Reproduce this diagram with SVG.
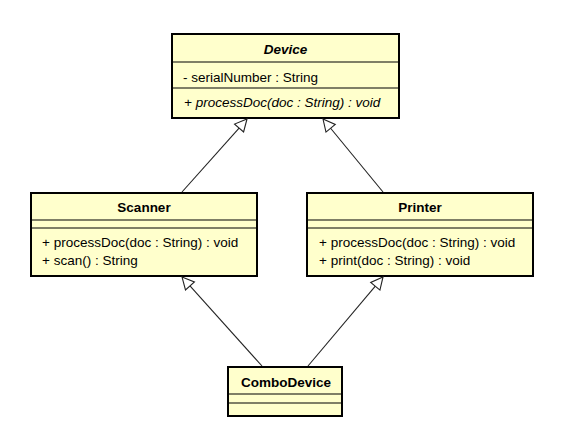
<svg xmlns="http://www.w3.org/2000/svg" width="578" height="443" viewBox="0 0 578 443">
<style>
.box{fill:#ffffcc;stroke:#000;stroke-width:2}
.div{stroke:#000;stroke-width:1.2}
.t{font-family:"Liberation Sans",Arial,sans-serif;font-size:13.5px;fill:#000}
.b{font-weight:bold;text-anchor:middle}
.i{font-style:italic}
.conn line{stroke:#222;stroke-width:1.1}
.conn polygon{fill:#fff;stroke:#222;stroke-width:1.1;stroke-linejoin:miter}
</style>
<rect width="578" height="443" fill="#fff"/>
<g id="Device">
<rect class="box" x="172" y="34" width="227" height="84"/>
<line class="div" x1="172" y1="62" x2="399" y2="62"/>
<line class="div" x1="172" y1="88" x2="399" y2="88"/>
<text class="t b i" x="285.5" y="54">Device</text>
<text class="t" x="183" y="82">- serialNumber : String</text>
<text class="t i" x="184" y="107">+ processDoc(doc : String) : void</text>
</g>
<g id="Scanner">
<rect class="box" x="31" y="193" width="226" height="83"/>
<line class="div" x1="31" y1="220" x2="257" y2="220"/>
<line class="div" x1="31" y1="228" x2="257" y2="228"/>
<text class="t b" x="144" y="212">Scanner</text>
<text class="t" x="42" y="247">+ processDoc(doc : String) : void</text>
<text class="t" x="42" y="265">+ scan() : String</text>
</g>
<g id="Printer">
<rect class="box" x="307" y="193" width="226" height="83"/>
<line class="div" x1="307" y1="220" x2="533" y2="220"/>
<line class="div" x1="307" y1="228" x2="533" y2="228"/>
<text class="t b" x="420" y="212">Printer</text>
<text class="t" x="319" y="247">+ processDoc(doc : String) : void</text>
<text class="t" x="319" y="265">+ print(doc : String) : void</text>
</g>
<g id="ComboDevice">
<rect class="box" x="228" y="367" width="114" height="49"/>
<line class="div" x1="228" y1="394" x2="342" y2="394"/>
<line class="div" x1="228" y1="403" x2="342" y2="403"/>
<text class="t b" x="286" y="387">ComboDevice</text>
</g>
<g id="connectors" class="conn">
<line x1="182" y1="192" x2="239.08" y2="128.01"/>
<polygon points="247,119 243.59,131.97 234.57,124.05"/>
<line x1="383" y1="192" x2="330.62" y2="128.27"/>
<polygon points="323,119 335.25,124.46 325.99,132.08"/>
<line x1="262" y1="366" x2="189.97" y2="285.97"/>
<polygon points="182,277 194.45,281.99 185.49,289.95"/>
<line x1="308" y1="366" x2="375.32" y2="286.22"/>
<polygon points="383,277 379.93,290.06 370.71,282.38"/>
</g>
</svg>
